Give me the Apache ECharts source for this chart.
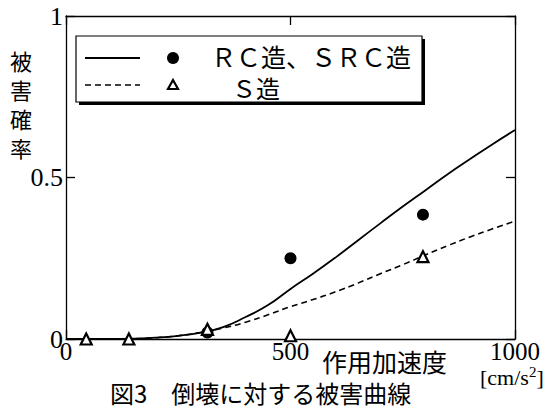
<!DOCTYPE html>
<html>
<head>
<meta charset="utf-8">
<style>
  html, body { margin: 0; padding: 0; background: #fff; }
  #chart { width: 544px; height: 409px; }
</style>
<script src="https://cdn.jsdelivr.net/npm/echarts@6/dist/echarts.min.js"></script>
</head>
<body>
<div id="chart"></div>
<script>
// Acceleration grid for the fitted curves [cm/s^2]
const accel = [0, 50, 100, 150, 200, 250, 300, 350, 400, 450, 500, 550, 600, 650, 700, 750, 800, 850, 900, 950, 1000];
// Fitted damage probability: RC / SRC buildings (solid)
const rcCurve = [0, 0, 0, 0.001, 0.004, 0.01, 0.02, 0.037, 0.068, 0.105, 0.155, 0.202, 0.252, 0.305, 0.358, 0.41, 0.46, 0.51, 0.557, 0.603, 0.647];
// Fitted damage probability: S (steel) buildings (dashed)
const sCurve = [0, 0, 0, 0.001, 0.004, 0.01, 0.02, 0.034, 0.052, 0.075, 0.1, 0.122, 0.146, 0.173, 0.202, 0.23, 0.26, 0.289, 0.316, 0.341, 0.365];
// Observed damage ratios
const rcObsX = [315, 500, 795];
const rcObsY = [0.02, 0.25, 0.385];
const sObsX = [45, 140, 315, 500, 795];
const sObsY = [0, 0, 0.03, 0.01, 0.255];
// Axis ticks
const xTicks = [0, 500, 1000];
const yTicks = [0, 0.5, 1];

const legendRC = 'ＲＣ造、ＳＲＣ造';
const legendS = 'Ｓ造';
const yName = '被害確率';
const xName = '作用加速度';
const caption = '図3　倒壊に対する被害曲線';

const serif = '"Liberation Serif", "DejaVu Serif", serif';
const jp = '"Noto Sans CJK JP", "Noto Sans", sans-serif';

const zip = (xs, ys) => xs.map((x, i) => [x, ys[i]]);

const chart = echarts.init(document.getElementById('chart'), null, { renderer: 'svg' });

const axisLine = { show: true, onZero: false, lineStyle: { color: '#000', width: 1.3 } };
const tickIn = { show: true, inside: true, length: 9, lineStyle: { color: '#000', width: 1.3 } };
const plain = v => String(v);

// vertical y-axis title, one glyph per line
const yTitle = yName.split('').map((ch, i) => ({
  type: 'text', x: 21, y: 60 + i * 29,
  style: { text: ch, font: '22px ' + jp, fill: '#000', textAlign: 'center', textVerticalAlign: 'middle' }
}));

chart.setOption({
  animation: false,
  backgroundColor: '#fff',
  grid: { left: 66, right: 29, top: 16, bottom: 70, containLabel: false },
  xAxis: [{
    type: 'value', min: xTicks[0], max: xTicks[xTicks.length - 1], interval: xTicks[1] - xTicks[0],
    axisLine, axisTick: tickIn, splitLine: { show: false },
    axisLabel: { color: '#000', fontFamily: serif, fontSize: 25, margin: 0, formatter: plain }
  }, {
    type: 'value', position: 'top', min: xTicks[0], max: xTicks[xTicks.length - 1], interval: xTicks[1] - xTicks[0],
    axisLine, axisTick: tickIn, splitLine: { show: false }, axisLabel: { show: false }
  }],
  yAxis: [{
    type: 'value', min: yTicks[0], max: yTicks[yTicks.length - 1], interval: yTicks[1] - yTicks[0],
    axisLine, axisTick: tickIn, splitLine: { show: false },
    axisLabel: { color: '#000', fontFamily: serif, fontSize: 26, margin: 3, formatter: plain }
  }, {
    type: 'value', position: 'right', min: yTicks[0], max: yTicks[yTicks.length - 1], interval: yTicks[1] - yTicks[0],
    axisLine, axisTick: tickIn, splitLine: { show: false }, axisLabel: { show: false }
  }],
  title: {
    text: caption, left: 105, top: 374,
    textStyle: { fontFamily: jp, fontSize: 24, fontWeight: 'normal', color: '#000', lineHeight: 26 }
  },
  series: [
    {
      name: legendRC, type: 'line', data: zip(accel, rcCurve), smooth: 0.5,
      showSymbol: false, lineStyle: { color: '#000', width: 1.8 }, z: 3
    },
    {
      name: legendS, type: 'line', data: zip(accel, sCurve), smooth: 0.5,
      showSymbol: false, lineStyle: { color: '#000', width: 1.6, type: [6, 4] }, z: 3
    },
    {
      name: legendRC, type: 'scatter', data: zip(rcObsX, rcObsY), symbol: 'circle', symbolSize: 12,
      itemStyle: { color: '#000', opacity: 1 }, z: 4
    },
    {
      name: legendS, type: 'scatter', data: zip(sObsX, sObsY), symbol: 'triangle', symbolSize: 11,
      itemStyle: { color: '#fff', borderColor: '#000', borderWidth: 2.2, opacity: 1 }, z: 5
    }
  ],
  graphic: [
    // legend frame with drop shadow
    { type: 'rect', shape: { x: 79, y: 39, width: 346, height: 66 }, style: { fill: '#000' }, z: 10 },
    { type: 'rect', shape: { x: 76, y: 36, width: 346, height: 66 }, style: { fill: '#fff', stroke: '#000', lineWidth: 1.2 }, z: 11 },
    { type: 'line', shape: { x1: 85, y1: 58, x2: 140, y2: 58 }, style: { stroke: '#000', lineWidth: 1.8 }, z: 12 },
    { type: 'line', shape: { x1: 85, y1: 85, x2: 140, y2: 85 }, style: { stroke: '#000', lineWidth: 1.6, lineDash: [6, 4] }, z: 12 },
    { type: 'circle', shape: { cx: 173, cy: 58, r: 6 }, style: { fill: '#000' }, z: 12 },
    { type: 'polygon', shape: { points: [[173, 80], [178, 89], [168, 89]] }, style: { fill: '#fff', stroke: '#000', lineWidth: 2.2 }, z: 12 },
    { type: 'text', x: 211, y: 56, style: { text: legendRC, font: '25px ' + jp, fill: '#000', textVerticalAlign: 'middle' }, z: 12 },
    { type: 'text', x: 232, y: 87, style: { text: legendS, font: '24px ' + jp, fill: '#000', textVerticalAlign: 'middle' }, z: 12 },
    ...yTitle,
    // x-axis title and unit
    { type: 'text', x: 322, y: 361, style: { text: xName, font: '25px ' + jp, fill: '#000', textVerticalAlign: 'middle' } },
    {
      type: 'text', x: 480, y: 377,
      style: {
        text: '[cm/s{sup|2}]', font: '22px ' + serif, fill: '#000', textVerticalAlign: 'middle',
        rich: { sup: { fontSize: 15, fontFamily: serif, padding: [0, 0, 11, 0] } }
      }
    }
  ]
});
</script>
</body>
</html>
